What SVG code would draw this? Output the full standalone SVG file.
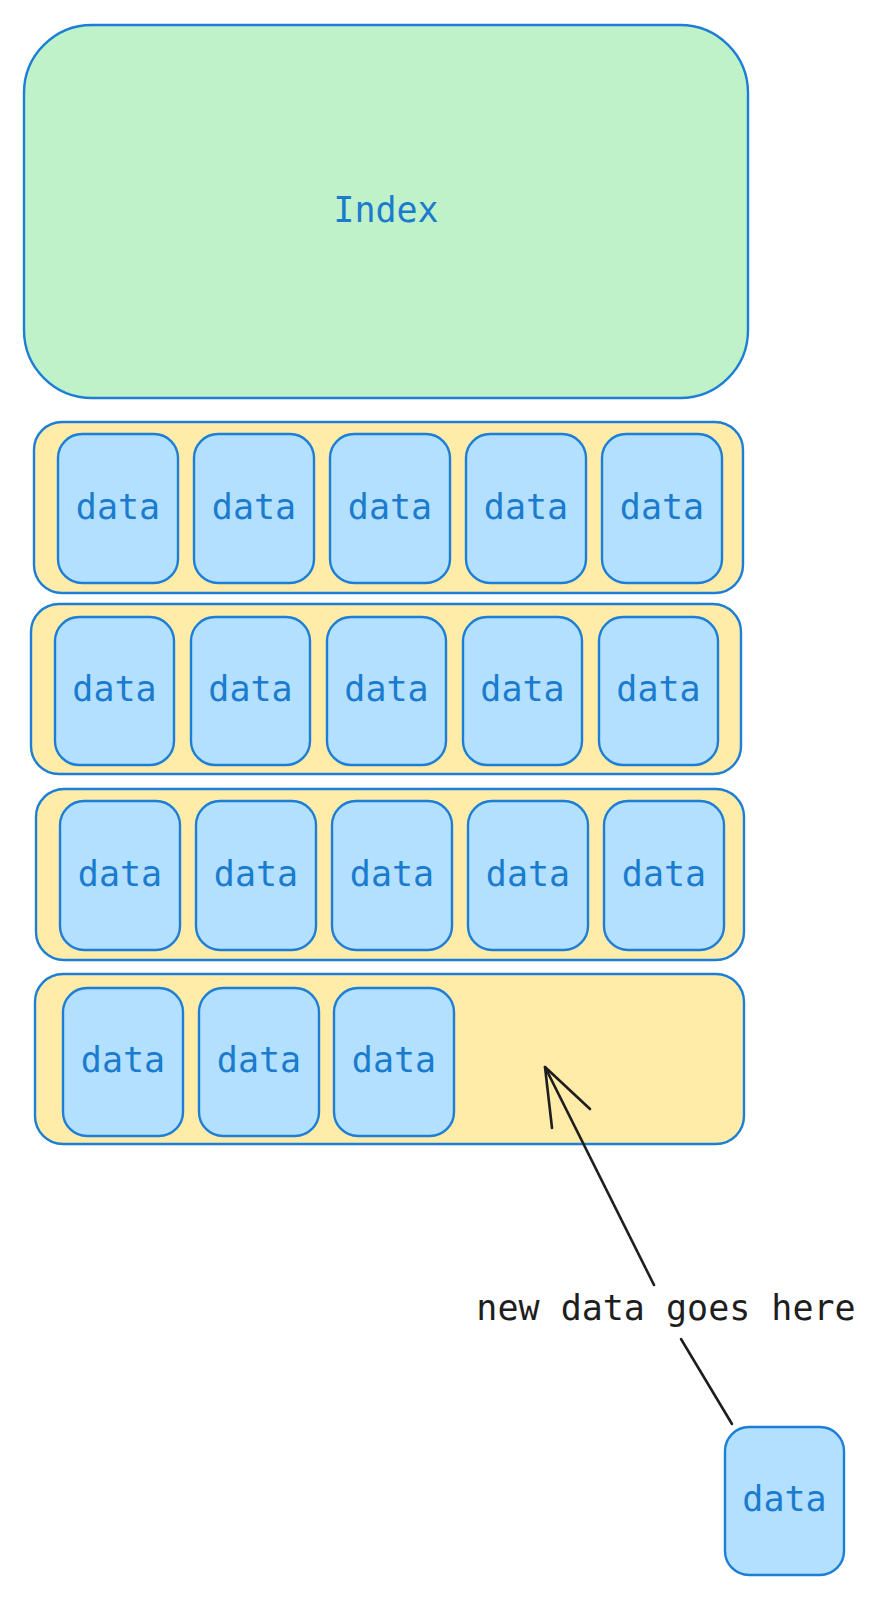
<svg xmlns="http://www.w3.org/2000/svg" width="886" height="1600" viewBox="0 0 886 1600">
<style>
.idx{fill:#bff2c9;stroke:#1c7ed6;stroke-width:2.4}
.row{fill:#ffeca9;stroke:#1c7ed6;stroke-width:2.4}
.dat{fill:#b3e0ff;stroke:#1c7ed6;stroke-width:2.4}
.t{font-family:"DejaVu Sans Mono","Liberation Mono",monospace;font-size:35px;fill:#1a7bcf;text-anchor:middle}
.lbl{font-family:"DejaVu Sans Mono","Liberation Mono",monospace;font-size:35px;fill:#1e1e1e;text-anchor:middle}
.arr{fill:none;stroke:#1e1e1e;stroke-width:2.6;stroke-linecap:round;stroke-linejoin:round}
</style>
<g id="index"><rect class="idx" x="24" y="25" width="724" height="373" rx="68"/><text class="t" x="386" y="222">Index</text></g>

<g id="row1"><rect class="row" x="34" y="422" width="709" height="171" rx="28"/></g>
<g id="r1d1"><rect class="dat" x="58" y="434" width="120" height="149" rx="24"/><text class="t" x="118" y="519">data</text></g>
<g id="r1d2"><rect class="dat" x="194" y="434" width="120" height="149" rx="24"/><text class="t" x="254" y="519">data</text></g>
<g id="r1d3"><rect class="dat" x="330" y="434" width="120" height="149" rx="24"/><text class="t" x="390" y="519">data</text></g>
<g id="r1d4"><rect class="dat" x="466" y="434" width="120" height="149" rx="24"/><text class="t" x="526" y="519">data</text></g>
<g id="r1d5"><rect class="dat" x="602" y="434" width="120" height="149" rx="24"/><text class="t" x="662" y="519">data</text></g>

<g id="row2"><rect class="row" x="31" y="604" width="710" height="170" rx="28"/></g>
<g id="r2d1"><rect class="dat" x="55" y="617" width="119" height="148" rx="24"/><text class="t" x="114.5" y="701">data</text></g>
<g id="r2d2"><rect class="dat" x="191" y="617" width="119" height="148" rx="24"/><text class="t" x="250.5" y="701">data</text></g>
<g id="r2d3"><rect class="dat" x="327" y="617" width="119" height="148" rx="24"/><text class="t" x="386.5" y="701">data</text></g>
<g id="r2d4"><rect class="dat" x="463" y="617" width="119" height="148" rx="24"/><text class="t" x="522.5" y="701">data</text></g>
<g id="r2d5"><rect class="dat" x="599" y="617" width="119" height="148" rx="24"/><text class="t" x="658.5" y="701">data</text></g>

<g id="row3"><rect class="row" x="36" y="789" width="708" height="171" rx="28"/></g>
<g id="r3d1"><rect class="dat" x="60" y="801" width="120" height="149" rx="24"/><text class="t" x="120" y="886">data</text></g>
<g id="r3d2"><rect class="dat" x="196" y="801" width="120" height="149" rx="24"/><text class="t" x="256" y="886">data</text></g>
<g id="r3d3"><rect class="dat" x="332" y="801" width="120" height="149" rx="24"/><text class="t" x="392" y="886">data</text></g>
<g id="r3d4"><rect class="dat" x="468" y="801" width="120" height="149" rx="24"/><text class="t" x="528" y="886">data</text></g>
<g id="r3d5"><rect class="dat" x="604" y="801" width="120" height="149" rx="24"/><text class="t" x="664" y="886">data</text></g>

<g id="row4"><rect class="row" x="35" y="974" width="709" height="170" rx="28"/></g>
<g id="r4d1"><rect class="dat" x="63" y="988" width="120" height="148" rx="24"/><text class="t" x="123" y="1072">data</text></g>
<g id="r4d2"><rect class="dat" x="199" y="988" width="120" height="148" rx="24"/><text class="t" x="259" y="1072">data</text></g>
<g id="r4d3"><rect class="dat" x="334" y="988" width="120" height="148" rx="24"/><text class="t" x="394" y="1072">data</text></g>

<g id="newdata"><rect class="dat" x="725" y="1427" width="119" height="148" rx="24"/><text class="t" x="784.5" y="1511">data</text></g>

<g id="connectors">
<path class="arr" d="M732 1424 L681 1339"/>
<path class="arr" d="M654 1285 L545 1067"/>
<path class="arr" d="M552 1128 L545 1067 L590 1109"/>
<text class="lbl" x="666" y="1320">new data goes here</text>
</g>
</svg>
